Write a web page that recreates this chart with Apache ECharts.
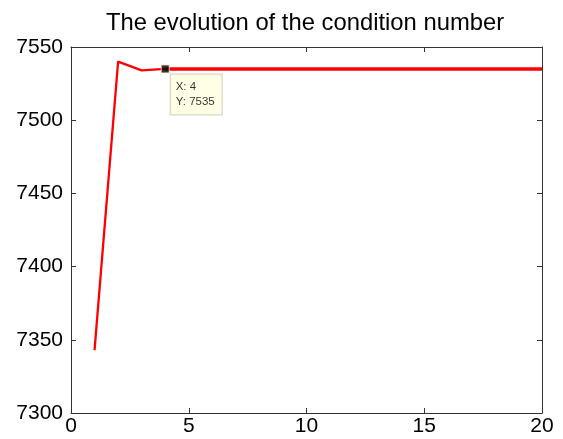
<!DOCTYPE html>
<html>
<head>
<meta charset="utf-8">
<script src="https://cdn.jsdelivr.net/npm/echarts@6/dist/echarts.min.js"></script>
<style>html,body{margin:0;padding:0;background:#fff;}#c{width:563px;height:439px;}</style>
</head>
<body>
<div id="c"></div>
<script>
const titleText = 'The evolution of the condition number';
const iterations = [1,2,3,4,5,6,7,8,9,10,11,12,13,14,15,16,17,18,19,20];
const condNumber = [7343,7540,7534,7535,7535,7535,7535,7535,7535,7535,7535,7535,7535,7535,7535,7535,7535,7535,7535,7535];
const xTicks = [0,5,10,15,20];
const yTicks = [7300,7350,7400,7450,7500,7550];
const tipX = 4;
const tipY = 7535;

const pts = iterations.map((x, i) => [x, condNumber[i]]);
const firstPart = pts.slice(0, 4);
const steadyPart = pts.slice(3);

const font = 'Liberation Sans, Arial, sans-serif';
const axisCol = '#333';
const chart = echarts.init(document.getElementById('c'), null, {renderer: 'canvas'});
const baseX = {
  type: 'value', min: xTicks[0], max: xTicks[xTicks.length-1], interval: 5,
  axisLine: {show: true, onZero: false, lineStyle: {color: axisCol, width: 1}},
  axisTick: {show: true, inside: true, length: 5, lineStyle: {color: axisCol}},
  splitLine: {show: false}
};
const baseY = {
  type: 'value', min: yTicks[0], max: yTicks[yTicks.length-1], interval: 50,
  axisLine: {show: true, onZero: false, lineStyle: {color: axisCol, width: 1}},
  axisTick: {show: true, inside: true, length: 5, lineStyle: {color: axisCol}},
  splitLine: {show: false}
};
chart.setOption({
  animation: false,
  backgroundColor: '#fff',
  title: {
    text: titleText, left: 300, top: 6, textAlign: 'center',
    textStyle: {fontFamily: font, fontSize: 23.8, fontWeight: 'normal', color: '#000'}
  },
  grid: {left: 71, right: 21, top: 47, bottom: 26, containLabel: false},
  xAxis: [
    Object.assign({}, baseX, {position: 'bottom',
      axisLabel: {show: true, fontFamily: font, fontSize: 21, color: '#000', margin: 3,
        formatter: v => String(v)}}),
    Object.assign({}, baseX, {position: 'top', axisLabel: {show: false}})
  ],
  yAxis: [
    Object.assign({}, baseY, {position: 'left',
      axisLabel: {show: true, fontFamily: font, fontSize: 21, color: '#000', margin: 8,
        formatter: v => String(v)}}),
    Object.assign({}, baseY, {position: 'right', axisLabel: {show: false}})
  ],
  series: [
    {type: 'line', data: firstPart, symbol: 'none', lineStyle: {color: '#ff0000', width: 2.3}, z: 3},
    {type: 'line', data: steadyPart, symbol: 'none', lineStyle: {color: '#ff0000', width: 3.5}, z: 3},
    {type: 'scatter', data: [[tipX, tipY]], symbol: 'rect', symbolSize: 8,
      itemStyle: {color: '#000', borderColor: '#f5f5c8', borderWidth: 1}, z: 5,
      label: {show: true, position: [10, 10],
        formatter: 'X: ' + tipX + '\nY: ' + tipY,
        fontFamily: font, fontSize: 11.5, lineHeight: 15, color: '#000',
        backgroundColor: '#ffffe1', borderColor: '#c8c8b4', borderWidth: 1,
        padding: [5, 7, 5, 5], align: 'left', verticalAlign: 'top'}}
  ]
});
</script>
</body>
</html>
